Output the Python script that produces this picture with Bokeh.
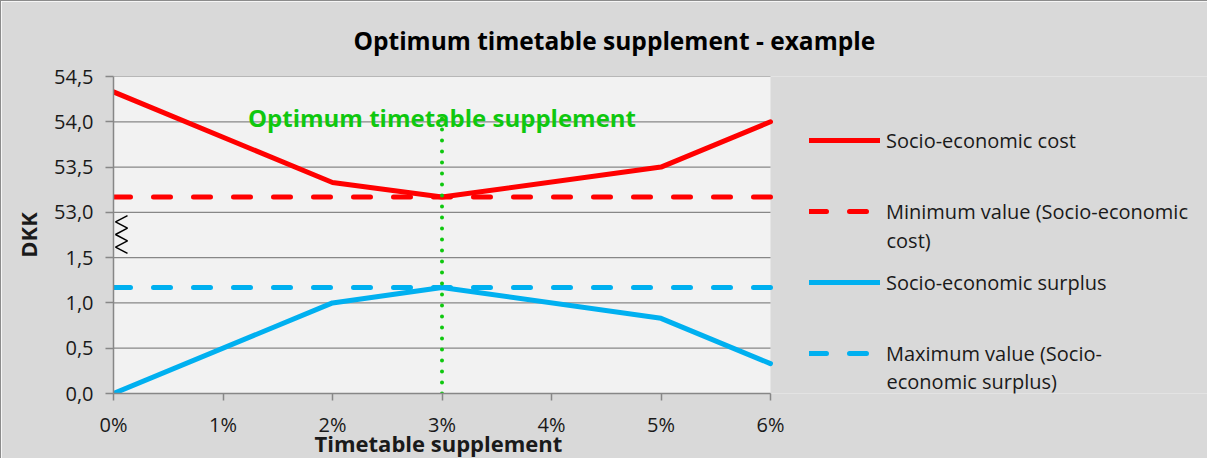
from bokeh.plotting import figure
from bokeh.models import Legend, LegendItem, FixedTicker, Range1d, Label, Title
from bokeh.embed import file_html
from bokeh.resources import INLINE

# ---------------- data ----------------
supplement_pct = [0, 2, 3, 5, 6]
socio_economic_cost = [54.33, 53.33, 53.17, 53.50, 54.00]
socio_economic_surplus = [0.00, 1.00, 1.17, 0.83, 0.33]
minimum_cost = 53.17
maximum_surplus = 1.17
optimum_supplement = 3
optimum_line_top = 54.04

x_tick_values = [0, 1, 2, 3, 4, 5, 6]
x_tick_labels = ["0%", "1%", "2%", "3%", "4%", "5%", "6%"]
y_lower_ticks = [0.0, 0.5, 1.0, 1.5]
y_upper_ticks = [53.0, 53.5, 54.0, 54.5]
y_tick_labels = ["0,0", "0,5", "1,0", "1,5", "53,0", "53,5", "54,0", "54,5"]

title_text = "Optimum timetable supplement - example"
x_title = "Timetable supplement"
y_title = "DKK"
optimum_text = "Optimum timetable supplement"
legend_cost = "Socio-economic cost"
legend_min = ["Minimum value (Socio-economic", "cost)"]
legend_surplus = "Socio-economic surplus"
legend_max = ["Maximum value (Socio-", "economic surplus)"]

# ---------------- broken axis mapping ----------------
BREAK_GAP = 0.5
UPPER_SHIFT = y_upper_ticks[0] - (y_lower_ticks[-1] + BREAK_GAP)


def upper(v):
    return v - UPPER_SHIFT


# ---------------- layout / style ----------------
RED = "#ff0000"
BLUE = "#00b0f0"
GREEN = "#0fc80f"
TXT = "#1a1a1a"
GRID = "#878787"
CHART_BG = "#d9d9d9"
PLOT_BG = "#f2f2f2"
FONT = "Open Sans"

W, H = 1207, 458
FL, FT, FW, FH = 112, 73, 657, 319     # plot area in canvas pixels
OFF = 9                                  # reference page px -> canvas px

X0, X1 = x_tick_values[0], x_tick_values[-1]
Y0, Y1 = y_lower_ticks[0], upper(y_upper_ticks[-1])
# the frame continues to the right edge so that the legend can live inside it
X_END = X1 + (W - FL - FW) / FW * (X1 - X0)


def cx(page_px):
    return X0 + (page_px - OFF - FL) / FW * (X1 - X0)


def cy(page_py):
    return Y1 - (page_py - OFF - FT) / FH * (Y1 - Y0)


p = figure(width=W, height=H, output_backend="svg", toolbar_location=None,
           title=title_text, x_range=Range1d(X0, X_END), y_range=Range1d(Y0, Y1),
           min_border_left=FL, min_border_top=FT, min_border_right=0,
           min_border_bottom=H - FT - FH)
p.styles = {"border-left": "1px solid #8c8c8c", "border-top": "1px solid #8c8c8c"}
p.background_fill_color = CHART_BG
p.border_fill_color = CHART_BG
p.outline_line_color = None

p.title.align = "left"
p.title.offset = 363 - 2 - OFF - FL
p.title.standoff = 40
p.title.text_font = FONT
p.title.text_font_size = "24.5px"
p.title.text_font_style = "bold"
p.title.text_color = "#000000"

# plot area background and horizontal gridlines (only over the plot area)
p.quad(left=[X0], right=[X1], bottom=[Y0], top=[Y1], fill_color=PLOT_BG,
       line_color=None, level="image")
p.xgrid.visible = False
p.ygrid.visible = False
y_positions = y_lower_ticks + [upper(v) for v in y_upper_ticks]
p.segment(x0=[X0] * len(y_positions), x1=[X1] * len(y_positions),
          y0=y_positions, y1=y_positions, line_color=GRID, line_width=1.2,
          level="underlay")

p.yaxis.ticker = FixedTicker(ticks=y_positions)
p.yaxis.major_label_overrides = {pos: lab for pos, lab in zip(y_positions, y_tick_labels)}
p.xaxis.ticker = FixedTicker(ticks=x_tick_values)
p.xaxis.major_label_overrides = {v: lab for v, lab in zip(x_tick_values, x_tick_labels)}
p.xaxis.bounds = (X0, X1)

for ax in (p.xaxis, p.yaxis):
    ax.axis_line_color = GRID
    ax.axis_line_width = 1.5
    ax.major_tick_line_color = GRID
    ax.major_tick_line_width = 1.5
    ax.minor_tick_line_color = None
    ax.major_tick_in = 0
    ax.major_label_text_font = FONT
    ax.major_label_text_font_size = "20px"
    ax.major_label_text_color = TXT
p.yaxis.major_tick_out = 8
p.yaxis.major_label_standoff = 12
p.xaxis.major_tick_out = 7
p.xaxis.major_label_standoff = 10

p.yaxis.axis_label = y_title
p.yaxis.axis_label_text_font = FONT
p.yaxis.axis_label_text_font_size = "22px"
p.yaxis.axis_label_text_font_style = "bold"
p.yaxis.axis_label_text_color = TXT
p.yaxis.axis_label_standoff = 8

# x axis title, placed under the tick labels and centred on the plot area
p.add_layout(Title(text=x_title, align="left", offset=322 - OFF - FL,
                   standoff=-34, text_font=FONT, text_font_size="22px",
                   text_font_style="bold", text_color=TXT), "below")

# ---------------- series ----------------
r_cost = p.line(supplement_pct, [upper(v) for v in socio_economic_cost],
                line_color=RED, line_width=5, line_join="round", line_cap="round")
r_min = p.line(supplement_pct, [upper(minimum_cost)] * len(supplement_pct),
               line_color=RED, line_width=5, line_dash="17 23", line_cap="round")
r_surplus = p.line(supplement_pct, socio_economic_surplus,
                   line_color=BLUE, line_width=5, line_join="round", line_cap="round")
r_max = p.line(supplement_pct, [maximum_surplus] * len(supplement_pct),
               line_color=BLUE, line_width=5, line_dash="17 23", line_cap="round")

p.line([optimum_supplement, optimum_supplement], [Y0, upper(optimum_line_top)],
       line_color=GREEN, line_width=4, line_dash="0 11", line_cap="round")

# axis-break zigzag beside the y axis between 53,0 and 1,5
zig_n = 7
zig_top, zig_bot = 222, 260
zig_x = [cx(135) if i % 2 == 0 else cx(123) for i in range(zig_n)]
zig_y = [cy(zig_top + (zig_bot - zig_top) * i / (zig_n - 1)) for i in range(zig_n)]
p.line(zig_x, zig_y, line_color="#000000", line_width=1.5)

p.add_layout(Label(x=optimum_supplement, y=cy(123), text=optimum_text,
                   text_align="center", text_baseline="alphabetic", text_font=FONT,
                   text_font_size="24px", text_font_style="bold", text_color=GREEN))

# ---------------- legend ----------------
ITEM_H = 30
PITCH = 71
WRAP = 28
FIRST = 148
N_ITEMS = 4
legend_h = N_ITEMS * ITEM_H + (N_ITEMS - 1) * (PITCH - ITEM_H)
legend_top = FIRST - ITEM_H // 2 - OFF - FT
legend = Legend(items=[
    LegendItem(label=legend_cost, renderers=[r_cost]),
    LegendItem(label=legend_min[0], renderers=[r_min]),
    LegendItem(label=legend_surplus, renderers=[r_surplus]),
    LegendItem(label=legend_max[0], renderers=[r_max]),
], location=(817 - OFF - FL, FH - legend_top - legend_h))
legend.margin = 0
legend.padding = 0
legend.border_line_alpha = 0
legend.background_fill_alpha = 0
legend.glyph_width = 71
legend.glyph_height = ITEM_H
legend.label_height = ITEM_H
legend.spacing = PITCH - ITEM_H
legend.label_standoff = 6
legend.label_text_font = FONT
legend.label_text_font_size = "20px"
legend.label_text_color = TXT
p.add_layout(legend)

for txt, item_index in ((legend_min[1], 1), (legend_max[1], 3)):
    p.add_layout(Label(x=cx(894), y=cy(FIRST + item_index * PITCH + WRAP), text=txt,
                       text_align="left", text_baseline="middle", text_font=FONT,
                       text_font_size="20px", text_color=TXT))

open("out.html", "w").write(file_html(p, INLINE))
